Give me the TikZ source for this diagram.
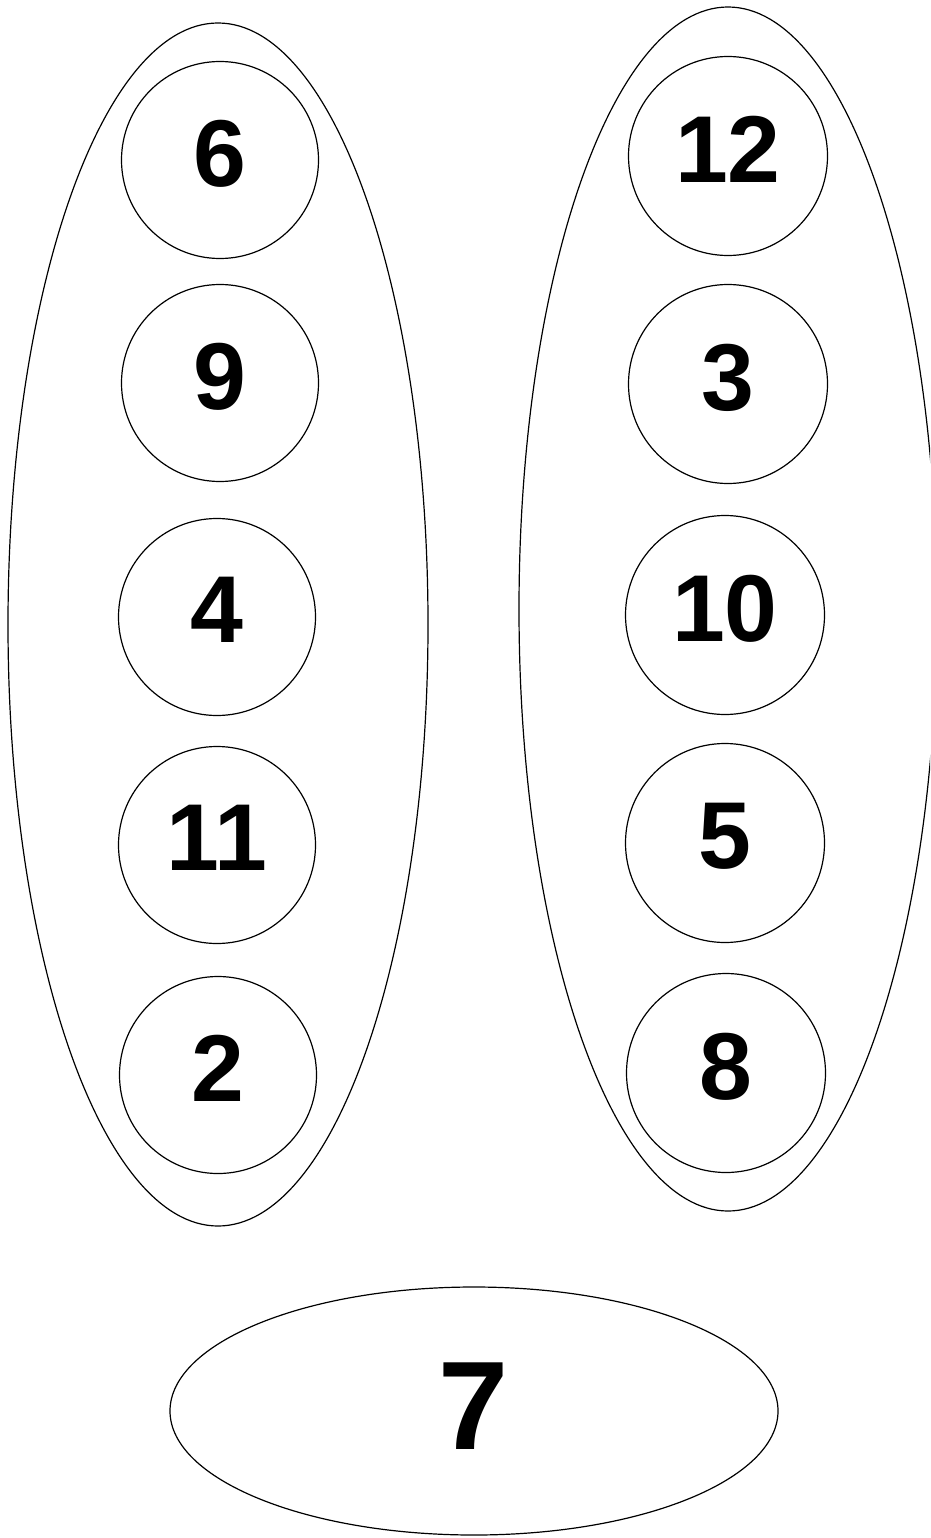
\documentclass[tikz,border=0pt]{standalone}
\usepackage{fontspec}
\setmainfont{Liberation Sans}
\usetikzlibrary{shapes.geometric}
\begin{document}
\begin{tikzpicture}[x=1pt,y=-1pt,
  group/.style={draw=black,line width=1.2pt,ellipse,inner sep=0pt},
  ball/.style={draw=black,line width=1.2pt,circle,inner sep=0pt,minimum size=197pt,
    font=\fontsize{95}{95}\selectfont\bfseries,text depth=14pt},
  big/.style={draw=black,line width=1.2pt,ellipse,inner sep=0pt,minimum width=608pt,minimum height=248pt,
    font=\fontsize{126}{126}\selectfont\bfseries,text depth=10pt}]
\useasboundingbox (0,0) rectangle (930,1538);
\clip (0,0) rectangle (930,1538);
\node[group,minimum width=420pt,minimum height=1203pt] (L) at (218,624.5) {};
\node[group,minimum width=418pt,minimum height=1204pt] (R) at (728,609) {};
\node[ball] (c6) at (220,160) {6};
\node[ball] (c9) at (220,383) {9};
\node[ball] (c4) at (217,617) {4};
\node[ball] (c11) at (217,845) {11};
\node[ball] (c2) at (218,1075) {2};
\node[ball,minimum size=199pt] (c12) at (728,156) {12};
\node[ball,minimum size=199pt] (c3) at (728,384) {3};
\node[ball,minimum size=199pt] (c10) at (725,615) {10};
\node[ball,minimum size=199pt] (c5) at (725,843) {5};
\node[ball,minimum size=199pt] (c8) at (726,1073) {8};
\node[big] (B) at (474,1411) {7};
\end{tikzpicture}
\end{document}
